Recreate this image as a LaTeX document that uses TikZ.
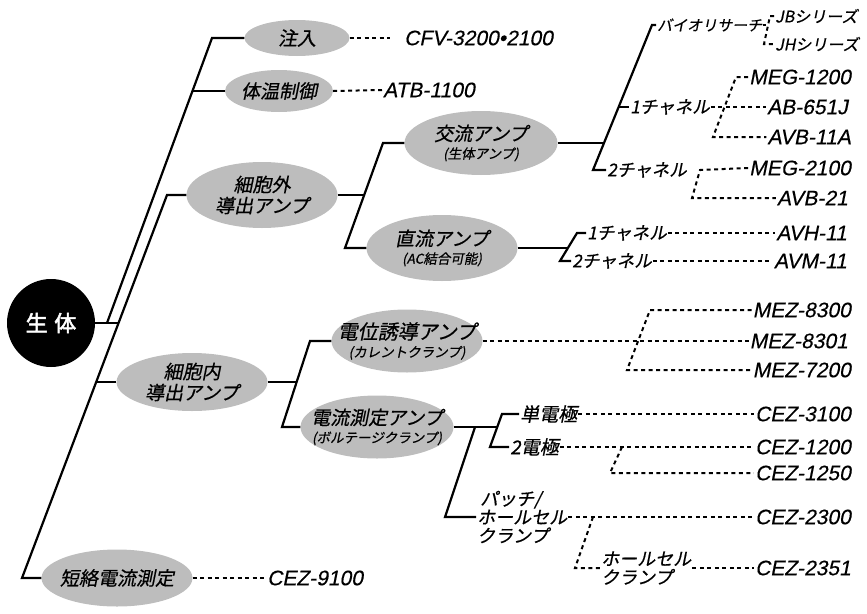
\documentclass[tikz,border=0pt]{standalone}
\usepackage{fontspec}
\setmainfont{Liberation Sans}
\newfontfamily\jpfont{Noto Sans CJK JP}[FakeSlant=0.2, FakeBold=0.6]
\newfontfamily\jpbold{Noto Sans CJK JP}[FakeBold=2.5]
\newfontfamily\modelfont{Liberation Sans}[FakeSlant=0.2, FakeBold=0.4]
\usetikzlibrary{shapes.geometric, calc}

\newcommand{\subnote}[1]{{\fontsize{13.5}{15}\selectfont #1}}

\begin{document}
\begin{tikzpicture}[x=1pt, y=-1pt,
  blob/.style={ellipse, fill=black!26, minimum width=151pt, minimum height=64pt,
               inner xsep=-16pt, inner ysep=-6pt, align=center,
               font=\jpfont\fontsize{19}{21}\selectfont},
  lbl/.style={anchor=west, inner sep=1pt, align=left,
              font=\jpfont\fontsize{17.5}{19}\selectfont},
  model/.style={anchor=east, inner sep=1pt, font=\modelfont\fontsize{21}{24}\selectfont},
  tree/.style={line width=2.2pt},
  dots/.style={line width=2pt, dash pattern=on 4pt off 3.5pt}
]
\useasboundingbox (0,0) rectangle (867,613);

% Root and first level
\node[circle, fill=black, minimum size=88pt, text=white,
      font=\jpbold\fontsize{22}{24}\selectfont] (root) at (51,323) {生\hspace{0.3em}体};
\node[blob, minimum width=105pt, minimum height=36pt] (inject) at (297,38) {注入};
\node[blob, minimum width=108pt, minimum height=42pt] (temp) at (279,91) {体温制御};
\node[blob, minimum height=66pt] (extra) at (262,195) {細胞外\\導出アンプ};
\node[blob, minimum height=58pt] (intra) at (192,382) {細胞内\\導出アンプ};
\node[blob, minimum height=57pt] (short) at (117,578) {短絡電流測定};

% Amplifiers
\node[blob, minimum width=153pt] (ac) at (481,143) {交流アンプ\\[-3pt]\subnote{(生体アンプ)}};
\node[blob, minimum height=66pt] (dc) at (442,248) {直流アンプ\\[-3pt]\subnote{(AC結合可能)}};
\node[blob, minimum height=63pt, font=\jpfont\fontsize{20}{21}\selectfont] (cc) at (407,341)
  {電位誘導アンプ\\[-3pt]\subnote{(カレントクランプ)}};
\node[blob, minimum width=153pt, minimum height=63pt] (vc) at (377,427)
  {電流測定アンプ\\[-3pt]\subnote{(ボルテージクランプ)}};

% Branch labels
\node[lbl, font=\jpfont\fontsize{15}{17}\selectfont] (bio) at (656,25) {バイオリサーチ};
\node[lbl, font=\jpfont\fontsize{16}{18}\selectfont] (jbs) at (774,16) {JBシリーズ};
\node[lbl, font=\jpfont\fontsize{16}{18}\selectfont] (jhs) at (774,44) {JHシリーズ};
\node[lbl] (ch1) at (629,107) {1チャネル};
\node[lbl] (ch2) at (606,170) {2チャネル};
\node[lbl] (dch1) at (586,233) {1チャネル};
\node[lbl] (dch2) at (571,261) {2チャネル};
\node[lbl, font=\jpfont\fontsize{19}{21}\selectfont] (single) at (519,414) {単電極};
\node[lbl, font=\jpfont\fontsize{19}{21}\selectfont] (double) at (509,447) {2電極};
\node[lbl, font=\jpfont\fontsize{18}{18.5}\selectfont] (patch) at (476,517) {\,パッチ/\\ホールセル\\クランプ};
\node[lbl, font=\jpfont\fontsize{18}{18.5}\selectfont] (whole) at (600,568) {ホールセル\\クランプ};

% Model numbers
\node[model, anchor=west] (cfv) at (403,38) {CFV-3200•2100};
\node[model, anchor=west] (atb) at (382,90) {ATB-1100};
\node[model] (meg1200) at (852,77) {MEG-1200};
\node[model] (ab651) at (849,107) {AB-651J};
\node[model] (avb11a) at (852,137) {AVB-11A};
\node[model] (meg2100) at (852,168) {MEG-2100};
\node[model] (avb21) at (849,198) {AVB-21};
\node[model] (avh11) at (848,233) {AVH-11};
\node[model] (avm11) at (848,261) {AVM-11};
\node[model] (mez8300) at (852,310) {MEZ-8300};
\node[model] (mez8301) at (849,341) {MEZ-8301};
\node[model] (mez7200) at (852,370) {MEZ-7200};
\node[model] (cez3100) at (852,414) {CEZ-3100};
\node[model] (cez1200) at (852,447) {CEZ-1200};
\node[model] (cez1250) at (852,473) {CEZ-1250};
\node[model] (cez2300) at (852,517) {CEZ-2300};
\node[model] (cez2351) at (852,568) {CEZ-2351};
\node[model, anchor=west] (cez9100) at (266,578) {CEZ-9100};

% Junctions
\coordinate (t1) at (212,38);  \coordinate (b1) at (107,323);
\coordinate (t2) at (167,195); \coordinate (b2) at (22,578);
\coordinate (k0) at (119,323); \coordinate (k1) at (192.5,91);
\coordinate (k3) at (96,382);
\coordinate (e1) at (383,143); \coordinate (e2) at (345,248); \coordinate (ek) at (364,195);
\coordinate (a1) at (652,25);  \coordinate (a2) at (593,170);
\coordinate (ak) at (604,143); \coordinate (a3) at (619,107);
\coordinate (d1) at (577,233); \coordinate (d2) at (560,261); \coordinate (dk) at (568,248);
\coordinate (bk) at (766,25);  \coordinate (b3) at (770,16);  \coordinate (b4) at (764,44);
\coordinate (m1) at (736,77);  \coordinate (m2) at (713,137);
\coordinate (m3) at (700,170); \coordinate (m4) at (692,198);
\coordinate (i1) at (310,341); \coordinate (i2) at (282,427); \coordinate (ik) at (297,382);
\coordinate (z1) at (650,310); \coordinate (z2) at (627,370);
\coordinate (v1) at (502,414); \coordinate (v2) at (490,447); \coordinate (vk) at (497,427);
\coordinate (p1) at (475,427); \coordinate (p2) at (445,517);
\coordinate (c1) at (622,447); \coordinate (c2) at (610,473);
\coordinate (w1) at (593,517); \coordinate (w2) at (575,568);

% Solid tree
\draw[tree] (root.east) -- (k0);
\draw[tree] (inject.west) -- (t1) -- (b1);
\draw[tree] (temp.west) -- (k1);
\draw[tree] (extra.west) -- (t2) -- (b2) -- (short.west);
\draw[tree] (intra.west) -- (k3);
\draw[tree] (extra.east) -- (ek);
\draw[tree] (ac.west) -- (e1) -- (e2) -- (dc.west);
\draw[tree] (ac.east) -- (ak);
\draw[tree] (bio.west) -- (a1) -- (a2) -- (ch2.west);
\draw[tree] (a3) -- (ch1.west);
\draw[tree] (dc.east) -- (dk);
\draw[tree] (dch1.west) -- (d1) -- (d2) -- (dch2.west);
\draw[tree] (intra.east) -- (ik);
\draw[tree] (cc.west) -- (i1) -- (i2) -- (vc.west);
\draw[tree] (vc.east) -- (vk);
\draw[tree] (single.west) -- (v1) -- (v2) -- (double.west);
\draw[tree] (p1) -- (p2) -- (patch.west);

% Dotted leads to models
\draw[dots, shorten >=13pt] (inject.east) -- (cfv.west);
\draw[dots] (temp.east) -- (atb.west);
\draw[dots] (bio.east) -- (bk);
\draw[dots] (jbs.west) -- (b3) -- (b4) -- (jhs.west);
\draw[dots] (ch1.east) -- (ab651.west);
\draw[dots] (meg1200.west) -- (m1) -- (m2) -- (avb11a.west);
\draw[dots] (meg2100.west) -- (m3) -- (m4) -- (avb21.west);
\draw[dots] (dch1.east) -- (avh11.west);
\draw[dots] (dch2.east) -- (avm11.west);
\draw[dots] (cc.east) -- (mez8301.west);
\draw[dots] (mez8300.west) -- (z1) -- (z2) -- (mez7200.west);
\draw[dots] (single.east) -- (cez3100.west);
\draw[dots] (double.east) -- (cez1200.west);
\draw[dots] (c1) -- (c2) -- (cez1250.west);
\draw[dots] (patch.east) -- (cez2300.west);
\draw[dots] (w1) -- (w2) -- (whole.west);
\draw[dots] (whole.east) -- (cez2351.west);
\draw[dots] (short.east) -- (cez9100.west);
\end{tikzpicture}
\end{document}
